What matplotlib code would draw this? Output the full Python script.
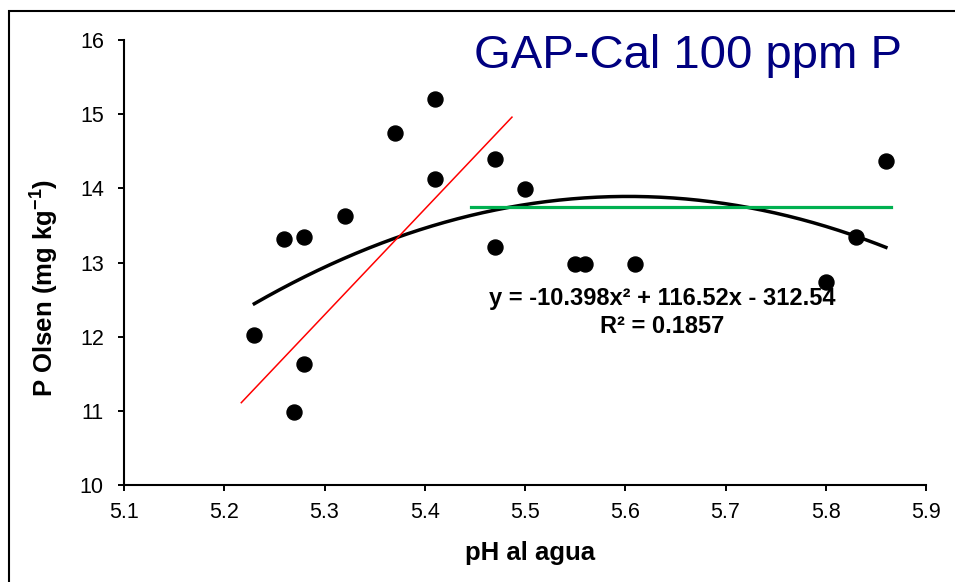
import numpy as np
import matplotlib
matplotlib.use('Agg')
import matplotlib.pyplot as plt
from matplotlib.patches import Rectangle

plt.rcParams['font.family'] = ['Liberation Sans', 'DejaVu Sans']
plt.rcParams['mathtext.fontset'] = 'custom'
plt.rcParams['mathtext.rm'] = 'Liberation Sans:bold'
plt.rcParams['mathtext.bf'] = 'Liberation Sans:bold'
plt.rcParams['mathtext.default'] = 'bf'

# data
ph = [5.23, 5.26, 5.27, 5.28, 5.28, 5.32, 5.37, 5.41, 5.41, 5.47, 5.47, 5.50,
      5.55, 5.56, 5.61, 5.80, 5.83, 5.86]
p_olsen = [12.02, 13.32, 10.98, 13.35, 11.63, 13.63, 14.74, 15.21, 14.12, 14.39,
           13.21, 13.99, 12.98, 12.98, 12.98, 12.74, 13.35, 14.37]

# polynomial trendline (coefficients as printed on the chart)
coef = [-10.398, 116.52, -312.54]
r2 = 0.1857

# hand-drawn lines
red_x = [5.217, 5.487]
red_y = [11.11, 14.96]
green_x = [5.446, 5.865]
green_y = [13.75, 13.75]

xticks = [5.1, 5.2, 5.3, 5.4, 5.5, 5.6, 5.7, 5.8, 5.9]
yticks = [10, 11, 12, 13, 14, 15, 16]

fig = plt.figure(figsize=(9.55, 5.82), dpi=100)
ax = fig.add_axes([124/955, 1-485/582, 802/955, 445/582])

x_fit = np.linspace(min(ph), max(ph), 200)
y_fit = np.polyval(coef, x_fit)

ax.plot(ph, p_olsen, 'o', color='black', markersize=10.8, zorder=3)
ax.plot(x_fit, y_fit, color='black', linewidth=2.5, zorder=2)
ax.plot(red_x, red_y, color='red', linewidth=1.1, zorder=2)
ax.plot(green_x, green_y, color='#00B050', linewidth=2.3, zorder=2)

ax.set_xlim(5.1, 5.9)
ax.set_ylim(10, 16)
ax.set_xticks(xticks)
ax.set_xticklabels(['%.1f' % t for t in xticks])
ax.set_yticks(yticks)
ax.set_yticklabels([str(t) for t in yticks])

for s in ['top', 'right']:
    ax.spines[s].set_visible(False)
for s in ['left', 'bottom']:
    ax.spines[s].set_linewidth(1.5)

ax.tick_params(axis='both', direction='out', length=4.5, width=1.4,
               labelsize=15.5, colors='black')
ax.tick_params(axis='x', pad=8)
ax.tick_params(axis='y', pad=10)

ax.set_xlabel('pH al agua', fontsize=18.5, fontweight='bold')
ax.xaxis.set_label_coords(0.506, -0.125)
ax.set_ylabel(r'P Olsen (mg kg$^{-1}$)', fontsize=18.5, fontweight='bold')
ax.yaxis.set_label_coords(-0.079, 0.443)

fig.text(688/955, 1-67.7/582, 'GAP-Cal 100 ppm P', fontsize=34, color='#000080',
         ha='center', va='baseline')

fig.text(662/955, 1-305/582, 'y = -10.398x\u00b2 + 116.52x - 312.54', fontsize=17,
         fontweight='bold', ha='center', va='baseline')
fig.text(662/955, 1-332.7/582, 'R\u00b2 = %.4f' % r2, fontsize=17,
         fontweight='bold', ha='center', va='baseline')

# outer chart frame
fig.patches.append(Rectangle((9/955, -0.2), 1.2, 1.2 + (1-11/582) - 1,
                             transform=fig.transFigure, fill=False,
                             edgecolor='black', linewidth=1.5, clip_on=False))

fig.savefig('out.png', dpi=100)
